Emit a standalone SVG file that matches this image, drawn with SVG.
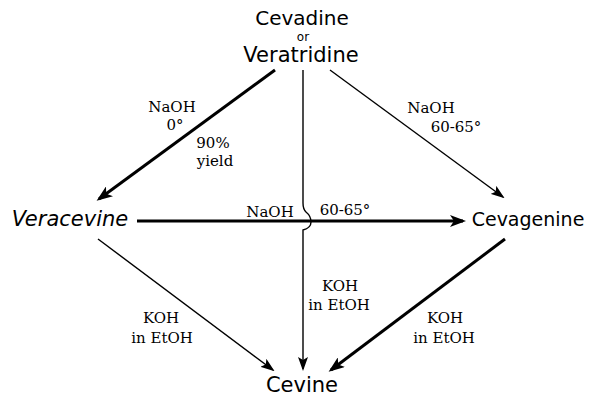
<svg xmlns="http://www.w3.org/2000/svg" width="591" height="398" viewBox="0 0 591 398">
  <style>
    .name { font-family: "DejaVu Sans", "Liberation Sans", sans-serif; font-size: 21px; fill: #000; text-anchor: middle; }
    .lbl { font-family: "DejaVu Serif", "Liberation Serif", serif; font-size: 15px; fill: #000; text-anchor: middle; }
    .thick { fill: none; stroke: #000; stroke-width: 3; }
    .thin { fill: none; stroke: #000; stroke-width: 1.4; }
  </style>
  <defs>
    <marker id="ahThick" markerUnits="userSpaceOnUse" viewBox="0 0 16 12" markerWidth="16" markerHeight="12" refX="13" refY="6" orient="auto">
      <path d="M0,0 L16,6 L0,12 L4,6 z" fill="#000"/>
    </marker>
    <marker id="ahThin" markerUnits="userSpaceOnUse" viewBox="0 0 14 10" markerWidth="14" markerHeight="10" refX="12" refY="5" orient="auto">
      <path d="M0,0 L14,5 L0,10 L3,5 z" fill="#000"/>
    </marker>
  </defs>

  <g id="connectors">
    <line class="thick" x1="275" y1="70" x2="99" y2="199" marker-end="url(#ahThick)"/>
    <line class="thin" x1="330" y1="70" x2="503" y2="197" marker-end="url(#ahThin)"/>
    <path class="thin" d="M303,70 V203 Q303,209 306,212 Q311,216 311,222 Q311,228 303,230 V369" marker-end="url(#ahThin)"/>
    <line class="thick" x1="137" y1="221" x2="463" y2="221" marker-end="url(#ahThick)"/>
    <line class="thin" x1="98" y1="239" x2="273" y2="370" marker-end="url(#ahThin)"/>
    <line class="thick" x1="505" y1="239" x2="331" y2="370" marker-end="url(#ahThick)"/>
  </g>

  <g id="labels">
    <text class="lbl" x="172" y="112">NaOH</text>
    <text class="lbl" x="175" y="130">0°</text>
    <text class="lbl" x="213" y="148">90%</text>
    <text class="lbl" x="215" y="166">yield</text>
    <text class="lbl" x="431" y="113">NaOH</text>
    <text class="lbl" x="456" y="132">60-65°</text>
    <text class="lbl" x="270" y="217">NaOH</text>
    <text class="lbl" x="345" y="215">60-65°</text>
    <text class="lbl" x="340" y="291">KOH</text>
    <text class="lbl" x="339" y="310">in EtOH</text>
    <text class="lbl" x="161" y="323">KOH</text>
    <text class="lbl" x="162" y="343">in EtOH</text>
    <text class="lbl" x="445" y="323">KOH</text>
    <text class="lbl" x="444" y="343">in EtOH</text>
  </g>

  <g id="node-cevadine">
    <text class="name" x="302" y="25" style="font-size:20px">Cevadine</text>
    <text class="name" x="303" y="41" style="font-size:12px">or</text>
    <text class="name" x="301" y="62">Veratridine</text>
  </g>
  <g id="node-veracevine">
    <text class="name" x="70" y="226" style="font-style:italic">Veracevine</text>
  </g>
  <g id="node-cevagenine">
    <text class="name" x="528" y="226" style="font-size:19px">Cevagenine</text>
  </g>
  <g id="node-cevine">
    <text class="name" x="302" y="392">Cevine</text>
  </g>
</svg>
